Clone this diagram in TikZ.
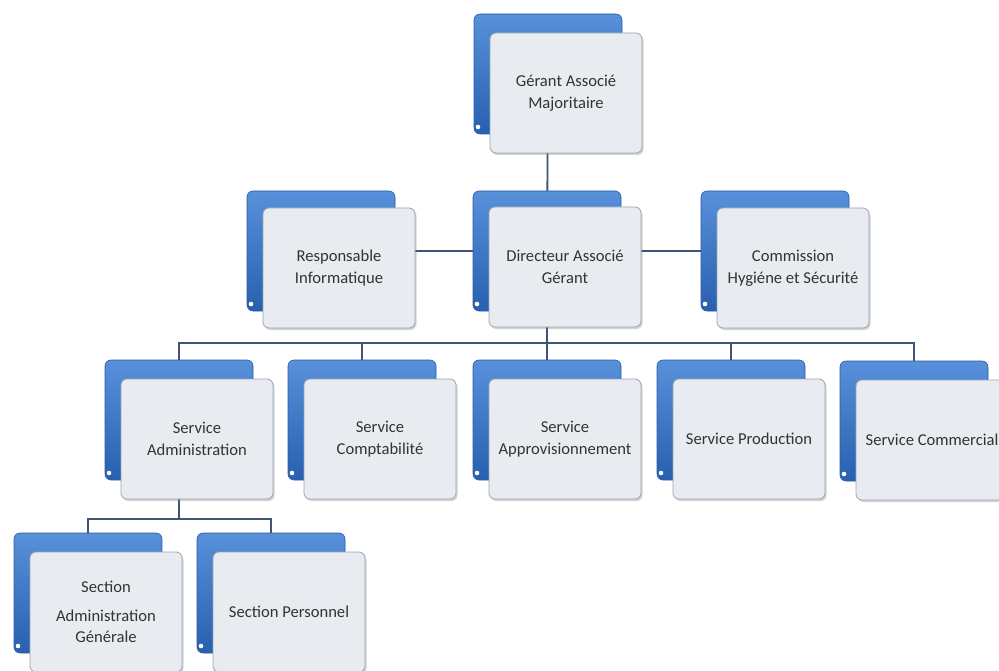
\documentclass[tikz,border=0pt]{standalone}
\usepackage{fontspec}
\setmainfont{Carlito}
\usetikzlibrary{shadows,backgrounds}
\definecolor{cardfill}{HTML}{E8EBF0}
\definecolor{cardedge}{HTML}{9AA5B5}
\definecolor{blueTop}{HTML}{5890DA}
\definecolor{blueBot}{HTML}{2860B0}
\definecolor{blueEdge}{HTML}{2A5CA6}
\definecolor{linkc}{HTML}{3E5674}
\definecolor{txt}{HTML}{333333}
\begin{document}
\begin{tikzpicture}[x=1pt,y=-1pt,
  back/.style={rounded corners=6pt, minimum width=148pt, minimum height=120pt,
    top color=blueTop, bottom color=blueBot, draw=blueEdge, line width=0.6pt, inner sep=0pt,
    path picture={\fill[white] ([xshift=4pt,yshift=7pt]path picture bounding box.south west) circle (2.3pt);}},
  card/.style={rounded corners=6pt, minimum width=152pt, minimum height=120pt,
    fill=cardfill, draw=cardedge, line width=0.8pt, align=center, text=txt,
    font=\fontsize{16.6}{21.5}\selectfont, inner sep=2pt,
    drop shadow={shadow xshift=1.5pt, shadow yshift=-2pt, opacity=0.35}},
  link/.style={draw=linkc, line width=1.8pt}]
\useasboundingbox (0,0) rectangle (999,671);

% level 1
\node[back] (gB) at (548,74) {};
\node[card] (g) at (566,93) {Gérant Associé\\Majoritaire};

% level 2
\node[back] (rB) at (321,251) {};
\node[card] (r) at (339,268) {Responsable\\Informatique};
\node[back] (dB) at (547,251) {};
\node[card] (d) at (565,267) {Directeur Associé\\Gérant};
\node[back] (cB) at (775,251) {};
\node[card] (c) at (793,268) {Commission\\Hygiéne et Sécurité};

% level 3
\node[back] (saB) at (179,420) {};
\node[card] (sa) at (197,439) {Service\\Administration};
\node[back] (scB) at (362,420) {};
\node[card] (sc) at (380,439) {Service\\Comptabilité};
\node[back] (spB) at (547,420) {};
\node[card] (sp) at (565,439) {Service\\Approvisionnement};
\node[back] (sprB) at (731,420) {};
\node[card] (spr) at (749,439) {Service Production};
\node[back] (scomB) at (914,421) {};
\node[card] (scom) at (932,440) {Service Commercial};

% level 4
\node[back] (s1B) at (88,593) {};
\node[card] (s1) at (106,612) {Section\\[7pt]Administration\\Générale};
\node[back] (s2B) at (271,593) {};
\node[card] (s2) at (289,612) {Section Personnel};

\coordinate (bus1) at (0,343);
\coordinate (bus2) at (0,519);

\begin{scope}[on background layer]
  \fill[white] (0,0) rectangle (999,671);
  \draw[link] (gB.center) -- (dB.center);
  \draw[link] (rB.center) -- (dB.center);
  \draw[link] (dB.center) -- (cB.center);
  \draw[link] (dB.center) -- (dB.center |- bus1);
  \draw[link] (saB.north) -- (saB.north |- bus1) -| (scomB.north);
  \draw[link] (scB.north) -- (scB.north |- bus1);
  \draw[link] (spB.north) -- (spB.north |- bus1);
  \draw[link] (sprB.north) -- (sprB.north |- bus1);
  \draw[link] (saB.center) -- (saB.center |- bus2);
  \draw[link] (s1B.north) -- (s1B.north |- bus2) -| (s2B.north);
\end{scope}
\end{tikzpicture}
\end{document}
